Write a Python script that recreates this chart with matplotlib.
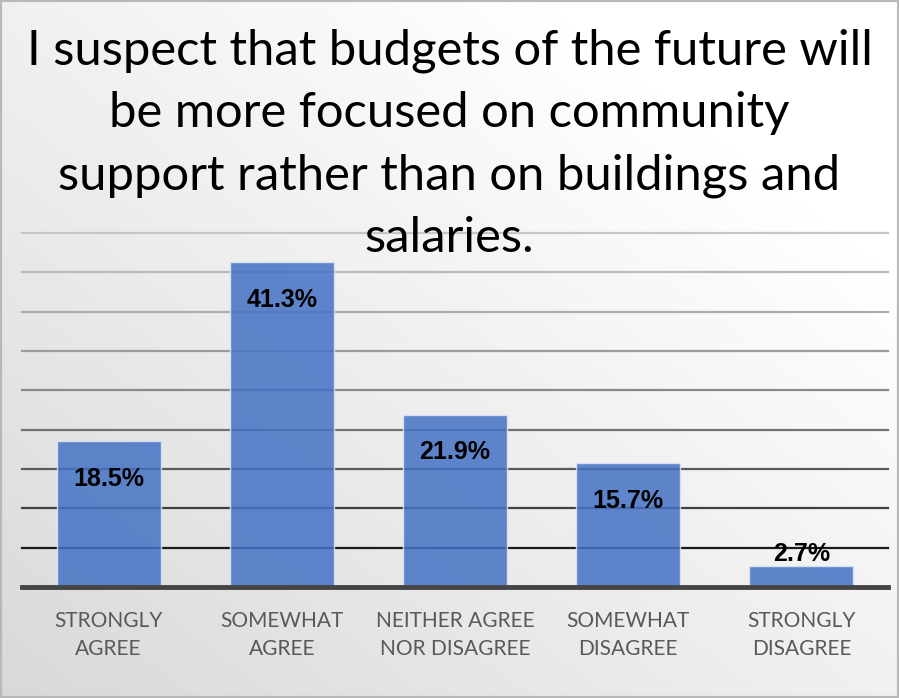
import numpy as np
import matplotlib
matplotlib.use("Agg")
import matplotlib.pyplot as plt
from matplotlib.patches import Rectangle

# survey responses
categories = ["STRONGLY\nAGREE", "SOMEWHAT\nAGREE", "NEITHER AGREE\nNOR DISAGREE",
              "SOMEWHAT\nDISAGREE", "STRONGLY\nDISAGREE"]
percents = [18.5, 41.3, 21.9, 15.7, 2.7]
grid_levels = [5, 10, 15, 20, 25, 30, 35, 40, 45]
grid_colors = ["#1a1a1a", "#404040", "#5a5a5a", "#727272", "#898989",
               "#9c9c9c", "#acacac", "#bababa", "#c6c6c6"]

title = ("I suspect that budgets of the future will\n"
         "be more focused on community\n"
         "support rather than on buildings and\n"
         "salaries.")

W, H = 899, 698
fig = plt.figure(figsize=(W / 100, H / 100), dpi=100)

# soft diagonal background, white top-right to light gray bottom-left
bg = fig.add_axes([0, 0, 1, 1], zorder=-10)
xx, yy = np.meshgrid(np.linspace(0, 1, 200), np.linspace(0, 1, 200))
shade = 0.85 + 0.15 * np.clip((xx + (1 - yy)) / 1.6, 0, 1)
bg.imshow(np.dstack([shade] * 3), extent=[0, 1, 0, 1], aspect="auto", origin="upper")
bg.axis("off")

ax = fig.add_axes([22 / W, 111 / H, 866 / W, (587 - 233) / H])
ax.set_facecolor("none")
ax.set_xlim(-0.5, 4.5)
ax.set_ylim(0, 45)

for lvl, col in zip(grid_levels, grid_colors):
    ax.axhline(lvl, color=col, lw=1.6, zorder=1, clip_on=False)
ax.axhline(0, color="#444444", lw=3.5, zorder=4, clip_on=False)

x = np.arange(len(categories))
ax.bar(x, percents, width=0.6, color="#4472C4", alpha=0.85,
       edgecolor="#dfe6f3", linewidth=1, zorder=3)

for xi, v in zip(x, percents):
    if v > 10:
        ax.text(xi, v - 4.8, f"{v}%", ha="center", va="center", fontsize=18,
                fontweight="bold", family="Liberation Sans", color="black", zorder=5)
    else:
        ax.text(xi, v + 1.5, f"{v}%", ha="center", va="center", fontsize=18,
                fontweight="bold", family="Liberation Sans", color="black", zorder=5)

ax.set_xticks(x)
ax.set_xticklabels(categories, fontsize=15, family="Lato", color="#595959",
                   linespacing=1.5)
ax.tick_params(axis="x", length=0, pad=17)
ax.set_yticks([])
for s in ax.spines.values():
    s.set_visible(False)

fig.text(0.5, 1 - 144 / H, title, ha="center", va="center", fontsize=35.3,
         family="Lato", color="black", linespacing=1.5, zorder=10)

fig.patches.append(Rectangle((0, 0), 1, 1, transform=fig.transFigure,
                             fill=False, edgecolor="#b8b8b8", lw=3))

fig.savefig("out.png", dpi=100)
